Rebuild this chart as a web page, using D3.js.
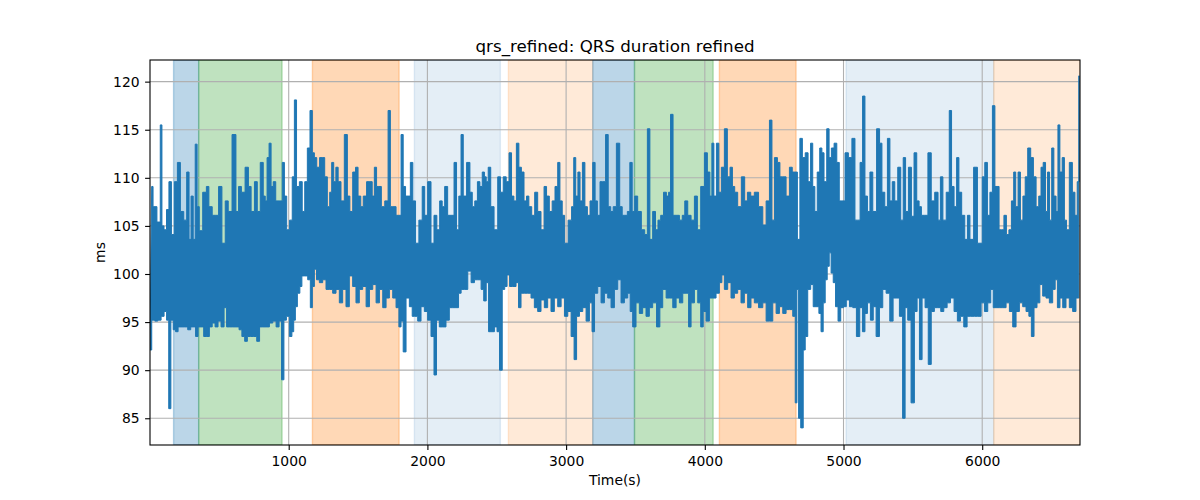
<!DOCTYPE html>
<html>
<head>
<meta charset="utf-8">
<script src="https://cdn.jsdelivr.net/npm/d3@7/dist/d3.min.js"></script>
<style>
    body { margin: 0; background: #ffffff; }
    #chart { width: 1200px; height: 500px; }
    text { font-family: "DejaVu Sans", sans-serif; }
</style>
</head>
<body>
<div id="chart"></div>
<script>

// ---- data ----
let chartTitle = "qrs_refined: QRS duration refined";
let xLabel = "Time(s)";
let yLabel = "ms";

let xLimits = [0, 6705];
let yLimits = [82.22, 122.25];
let xTickValues = [1000, 2000, 3000, 4000, 5000, 6000];
let yTickValues = [85, 90, 95, 100, 105, 110, 115, 120];

// shaded segments: start (s), end (s), segment kind
let spanStarts = [170, 351, 1171, 1906, 2584, 3192, 3493, 4105, 5018, 6083];
let spanEnds   = [351, 952, 1796, 2526, 3192, 3493, 4060, 4658, 6083, 6705];
let spanKinds  = ["A", "B", "C", "D", "E", "A", "B", "C", "D", "E"];

// upper envelope of the QRS trace: [time (s), ms]
let qrsPeaks = [
[12,109.1],[32,107.0],[68,105.4],[80,115.5],[92,105.0],[110,104.6],[128,106.7],[145,109.6],[164,104.1],[188,109.6],[207,111.6],[231,106.5],[255,105.6],[274,110.6],[289,103.6],[303,108.1],[320,103.6],[332,113.5],[347,107.0],[363,104.5],[397,108.5],[416,109.1],[433,107.0],[464,106.1],[481,106.1],[508,109.1],[529,103.2],[556,107.6],[572,106.5],[611,114.5],[628,106.5],[649,109.1],[669,108.5],[702,111.1],[717,109.1],[741,106.5],[765,109.6],[782,106.5],[808,111.6],[825,108.1],[837,107.6],[851,112.1],[866,113.6],[880,109.1],[897,109.6],[916,107.6],[945,107.6],[962,111.6],[976,108.1],[995,104.6],[1017,105.6],[1034,110.1],[1048,118.1],[1065,109.1],[1089,109.6],[1106,106.5],[1125,109.6],[1144,113.1],[1163,117.0],[1178,112.6],[1192,112.1],[1212,111.1],[1233,112.1],[1250,112.1],[1269,110.1],[1288,107.0],[1303,108.5],[1317,111.6],[1332,109.6],[1348,111.1],[1365,109.6],[1389,107.6],[1413,114.5],[1433,108.1],[1449,106.5],[1474,110.6],[1490,111.1],[1510,108.1],[1529,107.0],[1546,108.1],[1577,109.6],[1594,109.6],[1610,108.1],[1625,111.1],[1642,109.1],[1658,109.1],[1678,107.0],[1707,107.6],[1726,117.0],[1740,107.0],[1762,107.0],[1786,106.1],[1803,106.1],[1817,114.5],[1834,109.1],[1851,108.1],[1870,108.1],[1884,111.6],[1906,107.6],[1923,103.2],[1954,105.6],[1971,109.1],[1990,106.1],[2014,109.6],[2038,103.2],[2057,106.1],[2079,104.6],[2098,107.6],[2115,107.0],[2134,109.1],[2158,106.1],[2182,106.1],[2202,111.6],[2218,104.6],
[2235,108.1],[2250,114.5],[2267,108.1],[2298,111.6],[2315,108.5],[2332,107.0],[2351,107.6],[2370,109.6],[2387,109.1],[2404,110.6],[2418,110.1],[2430,109.6],[2447,111.1],[2466,107.0],[2495,104.6],[2519,110.1],[2536,108.5],[2557,110.1],[2579,109.6],[2598,112.6],[2615,108.1],[2632,107.6],[2651,113.6],[2668,111.1],[2687,110.6],[2706,107.6],[2723,108.1],[2740,107.0],[2764,106.1],[2783,108.5],[2807,106.5],[2831,104.6],[2851,109.1],[2867,108.1],[2891,106.5],[2908,107.6],[2932,109.1],[2947,111.6],[2964,107.6],[2980,106.1],[2998,103.2],[3031,105.6],[3048,107.0],[3062,112.1],[3077,108.1],[3093,110.6],[3108,107.6],[3127,111.6],[3144,107.0],[3163,106.1],[3182,107.6],[3202,111.6],[3216,107.6],[3235,106.1],[3254,109.6],[3274,109.6],[3295,114.5],[3312,107.0],[3331,106.5],[3348,107.0],[3377,113.6],[3396,107.0],[3413,106.1],[3432,106.1],[3451,106.5],[3468,111.6],[3485,106.5],[3504,108.1],[3528,106.5],[3557,104.6],[3576,104.1],[3596,115.1],[3612,103.6],[3636,106.5],[3653,104.6],[3672,105.6],[3692,106.1],[3713,108.5],[3733,108.1],[3745,108.5],[3761,116.6],[3781,106.1],[3805,106.1],[3829,105.6],[3846,106.1],[3865,107.6],[3889,106.1],[3913,105.6],[3937,108.1],[3956,104.6],[3985,109.1],[4009,112.6],[4028,110.6],[4045,108.1],[4057,113.6],[4074,108.1],[4093,113.6],[4110,108.5],[4129,111.1],[4153,115.1],[4172,110.1],[4192,111.1],[4206,109.1],[4225,108.5],[4249,107.0],[4278,110.1],[4297,107.6],[4317,108.5],[4345,108.1],[4369,108.5],
[4406,107.0],[4430,105.1],[4454,107.6],[4478,116.0],[4490,105.6],[4514,112.1],[4533,111.6],[4550,110.1],[4574,110.1],[4598,108.1],[4622,111.1],[4639,110.6],[4658,110.6],[4677,103.6],[4694,114.1],[4713,112.1],[4735,112.6],[4754,109.6],[4771,113.6],[4785,109.1],[4802,106.5],[4819,110.6],[4838,113.1],[4850,112.6],[4869,109.6],[4889,115.1],[4903,112.1],[4922,113.1],[4942,113.6],[4961,111.6],[4978,107.6],[4999,107.6],[5023,112.6],[5047,112.1],[5074,114.1],[5091,105.6],[5110,105.6],[5129,111.6],[5146,118.5],[5163,108.1],[5182,106.5],[5199,110.6],[5223,106.5],[5254,115.1],[5266,113.6],[5288,108.5],[5307,107.0],[5326,114.1],[5343,107.6],[5360,109.6],[5379,107.6],[5403,111.1],[5422,105.6],[5439,112.1],[5456,106.5],[5480,111.1],[5499,106.0],[5518,112.6],[5538,107.6],[5552,107.0],[5571,106.1],[5595,106.1],[5622,112.6],[5643,107.6],[5672,108.5],[5691,105.6],[5706,110.1],[5727,105.6],[5754,108.5],[5771,117.0],[5787,109.1],[5807,107.0],[5824,112.1],[5840,108.5],[5864,106.1],[5884,103.6],[5903,106.1],[5920,103.6],[5956,111.1],[5975,103.2],[5992,103.2],[6009,110.1],[6028,111.6],[6047,106.1],[6064,108.5],[6083,117.5],[6100,109.1],[6114,109.1],[6129,104.6],[6148,104.6],[6165,106.1],[6184,104.1],[6201,104.6],[6220,107.6],[6234,110.6],[6249,107.0],[6268,110.6],[6283,105.6],[6304,108.1],[6316,110.1],[6340,113.1],[6359,112.1],[6379,110.1],[6398,107.0],[6417,108.1],[6431,111.1],[6448,111.6],[6465,106.5],[6477,110.6],[6494,105.6],[6508,113.1],[6525,108.1],[6540,106.5],[6552,115.5],[6568,110.6],[6585,112.1],[6600,105.6],[6616,104.6],[6640,111.6],[6660,108.5],[6677,106.1],[6693,109.6],[6705,120.6]
];

// lower envelope of the QRS trace: [time (s), ms]
let qrsTroughs = [
[0,92.1],[25,95.2],[44,95.1],[68,95.2],[92,95.6],[111,96.1],[128,95.2],[142,86.0],[159,95.2],[176,94.2],[193,94.0],[212,94.5],[236,94.5],[260,94.5],[284,94.2],[303,94.5],[320,94.5],[337,93.5],[356,94.5],[380,94.5],[394,93.5],[416,93.5],[440,94.5],[457,94.9],[481,94.5],[500,95.1],[524,94.5],[544,96.5],[560,94.5],[584,94.5],[608,94.5],[632,94.5],[652,94.2],[673,93.5],[692,93.0],[712,93.5],[736,93.5],[760,93.5],[779,93.0],[801,94.5],[825,94.5],[849,94.5],[873,94.9],[897,95.1],[921,94.5],[940,95.1],[957,89.0],[974,95.2],[993,95.6],[1017,93.5],[1029,94.0],[1043,95.2],[1053,96.6],[1072,98.0],[1089,98.7],[1101,99.8],[1125,99.8],[1149,99.4],[1163,96.5],[1178,98.7],[1192,100.5],[1209,99.4],[1233,99.1],[1257,99.4],[1281,98.4],[1305,98.4],[1329,98.0],[1353,98.4],[1377,97.0],[1401,98.4],[1425,96.6],[1449,99.8],[1473,98.7],[1497,97.0],[1521,98.4],[1546,98.7],[1570,96.6],[1594,98.4],[1618,98.9],[1642,97.0],[1666,98.4],[1690,96.5],[1714,97.5],[1738,98.4],[1762,97.5],[1786,96.5],[1803,94.5],[1817,95.1],[1834,91.9],[1858,97.5],[1882,96.6],[1899,95.6],[1918,95.6],[1942,95.1],[1966,96.6],[1990,96.1],[2014,95.2],[2038,93.5],[2057,89.5],[2074,95.2],[2098,94.5],[2122,94.5],[2146,95.2],[2170,96.5],[2194,96.5],[2218,96.5],
[2231,98.0],[2255,98.4],[2279,98.4],[2303,100.3],[2327,99.1],[2351,99.4],[2375,99.4],[2399,98.4],[2413,97.2],[2435,99.1],[2447,94.0],[2471,94.0],[2495,94.5],[2509,94.0],[2531,90.0],[2548,98.4],[2567,98.7],[2582,99.9],[2603,98.7],[2627,98.7],[2651,99.1],[2663,96.5],[2687,98.0],[2711,98.0],[2735,98.0],[2759,97.5],[2783,96.5],[2807,96.1],[2831,97.3],[2855,96.5],[2879,97.5],[2903,96.1],[2927,97.5],[2952,96.6],[2976,97.5],[3000,95.6],[3024,96.1],[3048,93.5],[3067,91.1],[3084,95.6],[3108,96.1],[3132,96.5],[3156,95.1],[3180,97.0],[3194,94.0],[3216,98.0],[3240,98.7],[3264,97.0],[3288,98.0],[3312,97.5],[3336,96.5],[3360,98.4],[3384,99.4],[3408,97.0],[3432,97.5],[3456,98.0],[3468,96.1],[3492,94.5],[3516,97.0],[3540,95.9],[3564,96.5],[3588,95.6],[3612,96.5],[3636,97.0],[3668,94.5],[3684,96.5],[3709,98.4],[3733,97.5],[3757,97.5],[3781,96.5],[3805,97.5],[3829,97.0],[3853,98.0],[3877,98.0],[3889,94.5],[3913,97.0],[3937,98.4],[3961,97.0],[3980,94.5],[3997,96.1],[4021,95.1],[4045,97.5],[4069,97.5],[4093,98.0],[4117,99.1],[4129,99.9],[4153,98.4],[4177,99.1],[4201,97.5],[4225,98.0],[4249,98.4],[4273,97.0],[4297,98.0],[4321,96.5],[4345,97.5],[4369,97.0],
[4406,96.5],[4430,97.0],[4454,95.1],[4478,95.1],[4502,97.0],[4526,95.9],[4550,96.6],[4574,95.9],[4598,96.3],[4622,96.3],[4646,95.6],[4658,86.6],[4670,98.4],[4682,85.0],[4701,84.0],[4718,92.1],[4730,93.5],[4754,98.4],[4773,98.9],[4790,96.6],[4814,96.6],[4831,95.9],[4845,94.0],[4862,97.0],[4874,99.4],[4891,100.8],[4903,102.2],[4918,100.1],[4934,99.1],[4951,96.6],[4970,95.1],[4990,96.5],[5009,96.6],[5031,97.3],[5055,96.6],[5079,96.5],[5107,93.5],[5127,96.5],[5146,94.0],[5163,95.9],[5182,97.0],[5206,95.2],[5223,96.6],[5247,93.5],[5271,96.5],[5295,98.4],[5319,98.0],[5348,95.1],[5367,97.5],[5391,97.5],[5415,95.6],[5437,85.0],[5451,96.5],[5475,95.2],[5499,86.6],[5523,96.1],[5538,97.5],[5557,91.1],[5576,97.5],[5600,96.5],[5622,90.6],[5643,96.1],[5667,96.5],[5691,96.5],[5711,96.1],[5735,96.5],[5759,97.0],[5783,97.5],[5811,96.1],[5831,95.1],[5855,95.6],[5879,94.5],[5903,95.6],[5932,95.6],[5956,95.6],[5980,95.6],[6004,97.0],[6028,96.1],[6052,97.0],[6071,98.4],[6088,96.5],[6112,96.5],[6136,96.5],[6160,96.5],[6184,97.0],[6208,96.1],[6232,94.5],[6256,96.1],[6280,97.0],[6304,96.6],[6328,96.1],[6345,95.6],[6364,93.5],[6383,96.5],[6407,97.0],[6424,98.9],[6448,97.7],[6472,97.5],[6496,97.0],[6520,98.4],[6532,99.4],[6552,96.5],[6569,97.5],[6592,96.5],[6616,97.5],[6640,96.5],[6664,96.1],[6688,97.5]
];


class QrsVis {

    constructor(parentElement) {
        this.parentElement = parentElement;
        this.displayData = [];
        this.initVis();
    }

    initVis() {
        let vis = this;

        vis.margin = { top: 60, right: 120, bottom: 55, left: 150 };
        vis.width = 1200 - vis.margin.left - vis.margin.right;
        vis.height = 500 - vis.margin.top - vis.margin.bottom;

        vis.root = d3.select(vis.parentElement).append("svg")
            .attr("width", 1200)
            .attr("height", 500);

        vis.svg = vis.root.append("g")
            .attr("transform", "translate(" + vis.margin.left + "," + vis.margin.top + ")");

        vis.svg.append("clipPath")
            .attr("id", "plot-clip")
            .append("rect")
            .attr("width", vis.width)
            .attr("height", vis.height);

        vis.xScale = d3.scaleLinear().domain(xLimits).range([0, vis.width]);
        vis.yScale = d3.scaleLinear().domain(yLimits).range([vis.height, 0]);

        // segment shading styles
        vis.kindColor = { A: "#1f77b4", B: "#2ca02c", C: "#ff7f0e", D: "#1f77b4", E: "#ff7f0e" };
        vis.kindAlpha = { A: 0.3, B: 0.3, C: 0.3, D: 0.12, E: 0.16 };

        vis.spanLayer = vis.svg.append("g").attr("clip-path", "url(#plot-clip)");
        vis.gridLayer = vis.svg.append("g");
        vis.lineLayer = vis.svg.append("g").attr("clip-path", "url(#plot-clip)");

        // grid
        vis.gridLayer.selectAll(".vgrid")
            .data(xTickValues)
            .enter().append("line")
            .attr("class", "vgrid")
            .attr("x1", d => vis.xScale(d)).attr("x2", d => vis.xScale(d))
            .attr("y1", 0).attr("y2", vis.height)
            .attr("stroke", "#b0b0b0").attr("stroke-width", 1.1);

        vis.gridLayer.selectAll(".hgrid")
            .data(yTickValues)
            .enter().append("line")
            .attr("class", "hgrid")
            .attr("x1", 0).attr("x2", vis.width)
            .attr("y1", d => vis.yScale(d)).attr("y2", d => vis.yScale(d))
            .attr("stroke", "#b0b0b0").attr("stroke-width", 1.1);

        // axes
        vis.xAxis = d3.axisBottom(vis.xScale)
            .tickValues(xTickValues)
            .tickFormat(d3.format("d"))
            .tickSizeInner(4.9)
            .tickSizeOuter(0)
            .tickPadding(6.5);

        vis.yAxis = d3.axisLeft(vis.yScale)
            .tickValues(yTickValues)
            .tickFormat(d3.format("d"))
            .tickSizeInner(4.9)
            .tickSizeOuter(0)
            .tickPadding(5.5);

        vis.svg.append("g")
            .attr("class", "x-axis axis")
            .attr("transform", "translate(0," + vis.height + ")")
            .call(vis.xAxis);

        vis.svg.append("g")
            .attr("class", "y-axis axis")
            .call(vis.yAxis);

        vis.svg.selectAll(".axis .domain").remove();
        vis.svg.selectAll(".axis line").attr("stroke", "#000").attr("stroke-width", 1.1);
        vis.svg.selectAll(".axis text")
            .attr("fill", "#000")
            .style("font-family", "'DejaVu Sans', sans-serif")
            .style("font-size", "13.9px");

        // spines
        vis.svg.append("rect")
            .attr("width", vis.width)
            .attr("height", vis.height)
            .attr("fill", "none")
            .attr("stroke", "#000")
            .attr("stroke-width", 1.1);

        // titles
        vis.root.append("text")
            .attr("x", vis.margin.left + vis.width / 2)
            .attr("y", 51.5)
            .attr("text-anchor", "middle")
            .style("font-size", "16.7px")
            .text(chartTitle);

        vis.root.append("text")
            .attr("x", vis.margin.left + vis.width / 2)
            .attr("y", 485)
            .attr("text-anchor", "middle")
            .style("font-size", "13.9px")
            .text(xLabel);

        vis.root.append("text")
            .attr("transform", "translate(105," + (vis.margin.top + vis.height / 2) + ")rotate(-90)")
            .attr("text-anchor", "middle")
            .style("font-size", "13.9px")
            .text(yLabel);

        vis.wrangleData();
    }

    wrangleData() {
        let vis = this;

        vis.spanData = spanStarts.map((s, i) => ({ start: s, end: spanEnds[i], kind: spanKinds[i] }));

        // the trace is so dense that it fills the band between its envelopes:
        // walk the upper envelope forward and the lower one back
        let upper = qrsPeaks.map(d => ({ t: d[0], v: d[1] }));
        let lower = qrsTroughs.map(d => ({ t: d[0], v: d[1] })).reverse();
        vis.displayData = upper.concat(lower);

        vis.updateVis();
    }

    updateVis() {
        let vis = this;

        vis.spanLayer.selectAll(".span")
            .data(vis.spanData)
            .enter().append("rect")
            .attr("class", "span")
            .attr("x", d => vis.xScale(d.start))
            .attr("width", d => vis.xScale(d.end) - vis.xScale(d.start))
            .attr("y", 0)
            .attr("height", vis.height)
            .attr("fill", d => vis.kindColor[d.kind])
            .attr("fill-opacity", d => vis.kindAlpha[d.kind])
            .attr("stroke", d => vis.kindColor[d.kind])
            .attr("stroke-opacity", d => vis.kindAlpha[d.kind])
            .attr("stroke-width", 1.4);

        // step curve keeps the spikes upright like the dense original trace
        let line = d3.line()
            .x(d => vis.xScale(d.t))
            .y(d => vis.yScale(d.v))
            .curve(d3.curveStep);

        vis.lineLayer.append("path")
            .datum(vis.displayData)
            .attr("d", line(vis.displayData) + "Z")
            .attr("fill", "#1f77b4")
            .attr("stroke", "#1f77b4")
            .attr("stroke-width", 1)
            .attr("stroke-linejoin", "miter");
    }
}

new QrsVis(document.getElementById("chart"));

</script>
</body>
</html>
